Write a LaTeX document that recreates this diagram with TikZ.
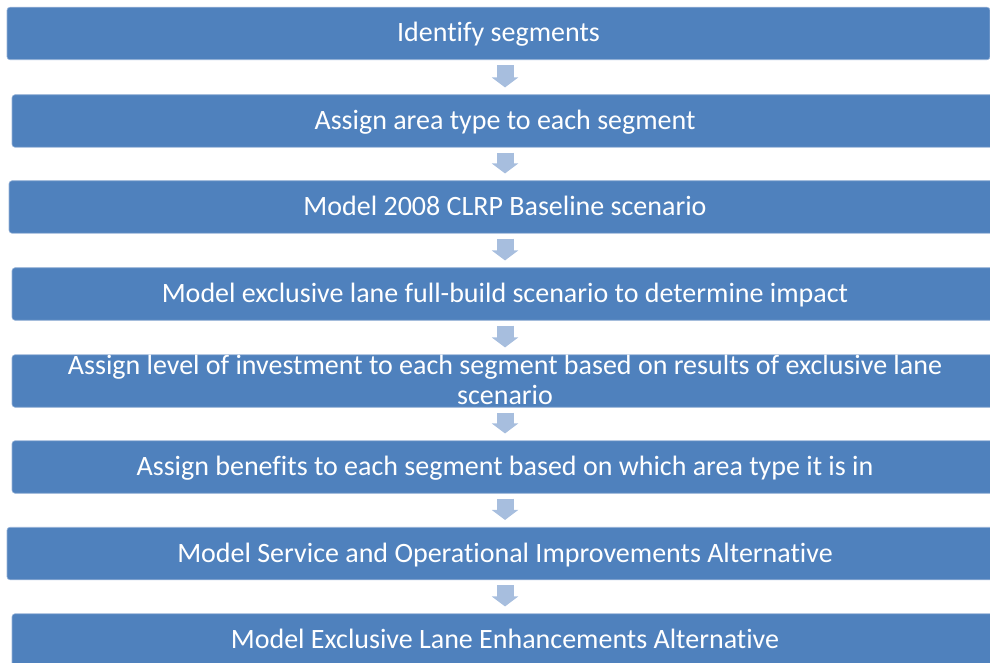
\documentclass[tikz,border=0pt]{standalone}
\usepackage{fontspec}
\setmainfont[Ligatures={NoCommon,NoContextual}]{Carlito}
\usetikzlibrary{arrows.meta}
\definecolor{boxblue}{RGB}{79,129,189}
\definecolor{boxedge}{RGB}{150,178,215}
\definecolor{arrowblue}{RGB}{167,190,222}
\tikzset{
  stepbox/.style={fill=boxblue, draw=boxedge, line width=0.3pt, rounded corners=1.5pt,
    minimum height=26.25pt, minimum width=493pt, inner sep=0pt,
    text height=12.5pt, text depth=4pt,
    text=white, font=\fontsize{14}{15}\selectfont},
  steparrow/.style={draw=arrowblue, line width=8.5pt, shorten <=2.5pt, shorten >=3.5pt,
    -{Triangle[width=13pt,length=5pt]}}
}
\begin{document}
\begin{tikzpicture}[x=0.5pt,y=-0.5pt]
                \useasboundingbox (0,0) rectangle (990,663);
                \clip (0,0) rectangle (990,663);
                \node[stepbox, minimum width=491.5pt] (b1) at (498.5,33.5) {Identify segments};
                \node[stepbox] (b2) at (505,121) {Assign area type to each segment};
                \node[stepbox, minimum width=496pt] (b3) at (505,207) {Model 2008 CLRP Baseline scenario};
                \node[stepbox] (b4) at (505,294) {Model exclusive lane full-build scenario to determine impact};
                \node[stepbox] (b5) at (505,381) {};
                \node[text=white, font=\fontsize{14}{15}\selectfont, align=center, inner sep=0pt] (t5) at (505,380)
                  {Assign level of investment to each segment based on results of exclusive lane\\scenario};
                \node[stepbox] (b6) at (505,467) {Assign benefits to each segment based on which area type it is in};
                \node[stepbox, minimum width=498pt] (b7) at (505,553.5) {Model Service and Operational Improvements Alternative};
                \node[stepbox] (b8) at (505,640) {Model Exclusive Lane Enhancements Alternative};
                \draw[steparrow] (b1.south -| b2) -- (b2.north);
                \draw[steparrow] (b2.south) -- (b3.north);
                \draw[steparrow] (b3.south) -- (b4.north);
                \draw[steparrow] (b4.south) -- (b5.north);
                \draw[steparrow] (b5.south) -- (b6.north);
                \draw[steparrow] (b6.south) -- (b7.north);
                \draw[steparrow] (b7.south) -- (b8.north);
            \end{tikzpicture}
\end{document}
